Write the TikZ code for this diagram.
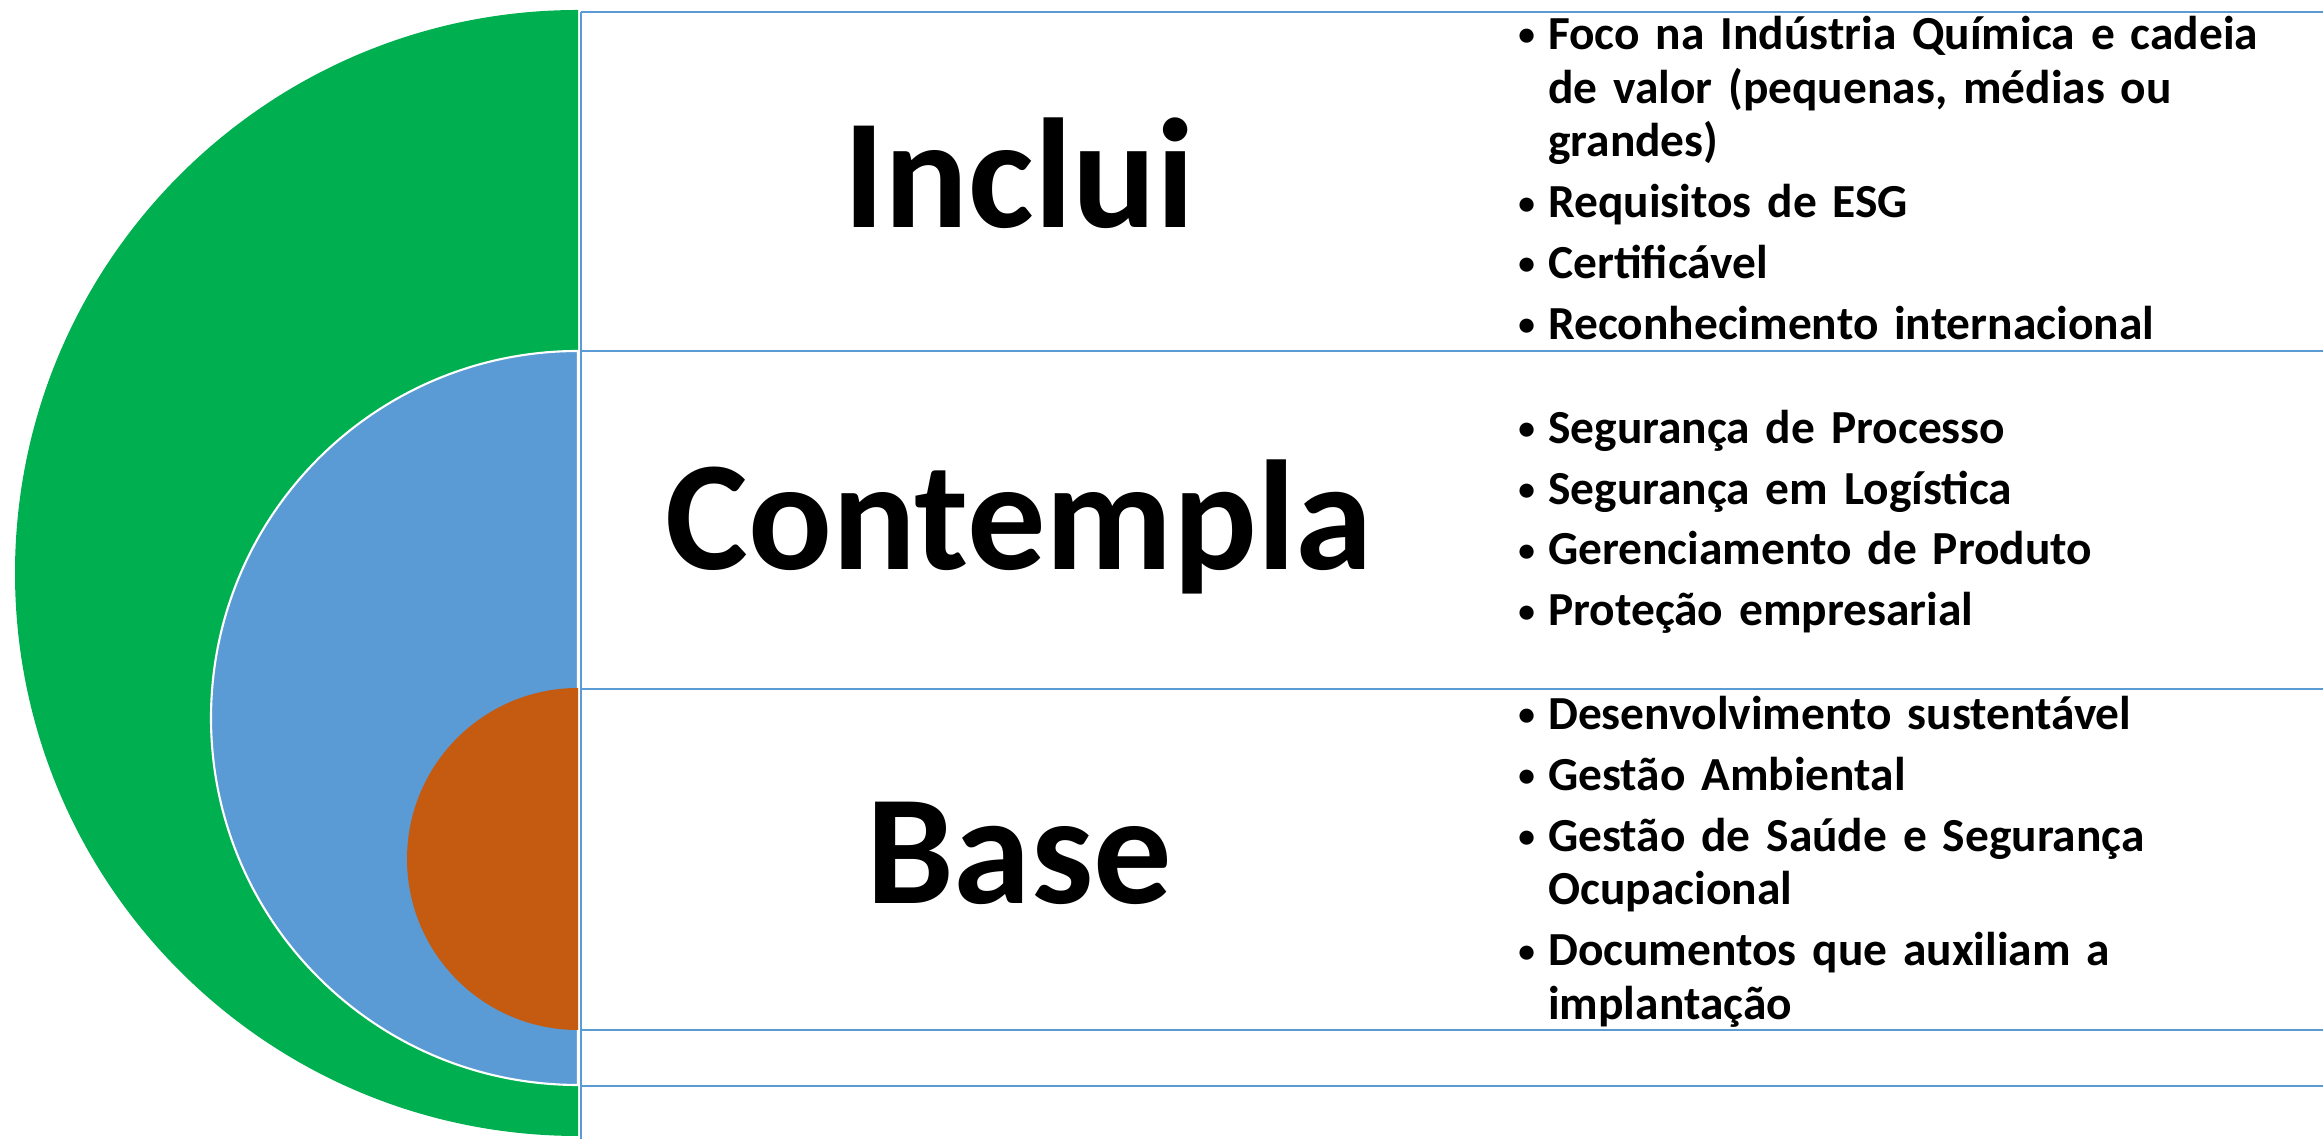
\documentclass[tikz,border=0pt]{standalone}
\usepackage{fontspec}
\setmainfont{Carlito}[WordSpace=0.8]
\usetikzlibrary{positioning}

\definecolor{ringgreen}{HTML}{00B050}
\definecolor{ringblue}{HTML}{5B9BD5}
\definecolor{ringorange}{HTML}{C55A11}

% one bullet item with hanging indent
\newcommand{\blt}[1]{\par\hangindent=17pt\hangafter=1\noindent\makebox[17pt][l]{\fontsize{19}{19}\selectfont\raisebox{2pt}{\textbullet}}#1\par}

\tikzset{
  rowline/.style={draw=ringblue, line width=1.1pt},
  bigword/.style={anchor=base, inner sep=0pt, font=\fontsize{89}{98}\selectfont\bfseries},
  bullets/.style={anchor=west, inner sep=0pt, text width=15.6cm, align=left,
    font=\fontsize{27}{30.6}\selectfont\bfseries\setlength{\parskip}{4pt}}
}

\begin{document}
\begin{tikzpicture}[x=0.02cm, y=0.02cm]
    \useasboundingbox (0,0) rectangle (2323,1139);
    % half discs
    \fill[ringgreen] (578,1129) arc[start angle=90, end angle=270, radius=563] -- cycle;
    \filldraw[fill=ringblue, draw=white, line width=1.2pt] (578,788) arc[start angle=90, end angle=270, radius=367] -- cycle;
    \fill[ringorange] (578,451) arc[start angle=90, end angle=270, radius=171] -- cycle;
    % rows
    \draw[rowline] (581,1127) -- (2330,1127);
    \draw[rowline] (581,788) -- (2330,788);
    \draw[rowline] (581,450) -- (2330,450);
    \draw[rowline] (581,109) -- (2330,109);
    \draw[rowline] (581,53) -- (2330,53);
    \draw[rowline] (581,1127) -- (581,0);
    % labels
    \node[bigword] (inclui) at (1019,911) {Inclui};
    \node[bigword] (contempla) at (1019,569) {Contempla};
    \node[bigword] (base) at (1019,235) {Base};
    \node[bullets] (incluilist) at (1518,975) {%
      \blt{Foco na Indústria Química e cadeia\newline de valor (pequenas, médias ou\newline grandes)}
      \blt{Requisitos de ESG}
      \blt{Certificável}
      \blt{Reconhecimento internacional}};
    \node[bullets] (contemplalist) at (1518,631) {%
      \blt{Segurança de Processo}
      \blt{Segurança em Logística}
      \blt{Gerenciamento de Produto}
      \blt{Proteção empresarial}};
    \node[bullets] (baselist) at (1518,291) {%
      \blt{Desenvolvimento sustentável}
      \blt{Gestão Ambiental}
      \blt{Gestão de Saúde e Segurança\newline Ocupacional}
      \blt{Documentos que auxiliam a\newline implantação}};
\end{tikzpicture}
\end{document}
